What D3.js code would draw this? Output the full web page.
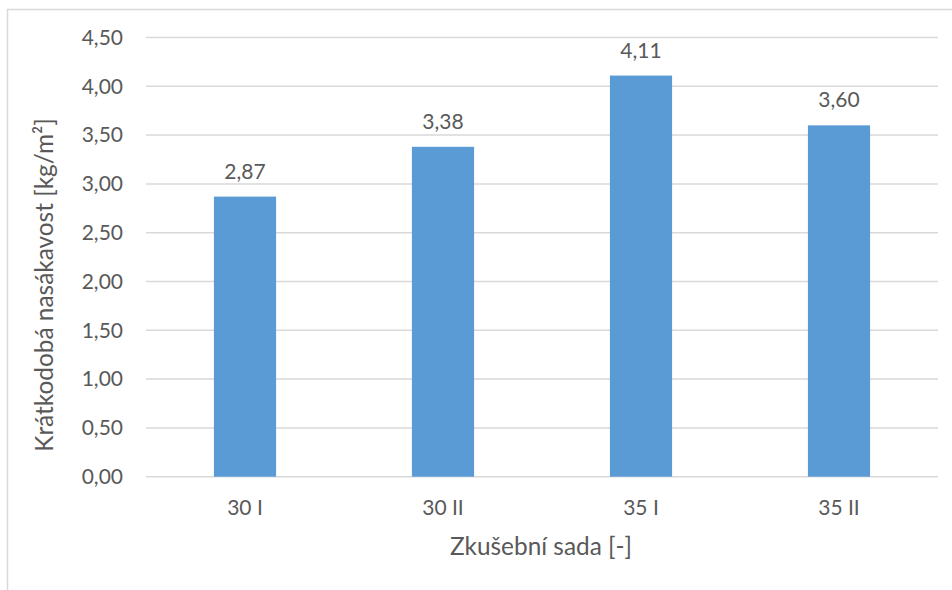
<!DOCTYPE html>
<html><head><meta charset="utf-8">
<script src="https://cdn.jsdelivr.net/npm/d3@7"></script>
<style>
html,body{margin:0;padding:0;background:#fff;}
svg text{font-family:Lato,"Open Sans",sans-serif;fill:#595959;}
</style></head>
<body>
<svg id="chart" width="952" height="590"></svg>
<script>
const categories = ["30 I", "30 II", "35 I", "35 II"];
const values = [2.87, 3.38, 4.11, 3.60];
const yTicks = [0, 0.5, 1.0, 1.5, 2.0, 2.5, 3.0, 3.5, 4.0, 4.5];
const yTitle = "Krátkodobá nasákavost [kg/m²]";
const xTitle = "Zkušební sada [-]";

(function () {
const svg = d3.select("#chart");
const fmt = v => d3.format(".2f")(v).replace(".", ",");

// outer border (cropped at right and bottom)
svg.append("rect").attr("x", 7.5).attr("y", 9.5).attr("width", 960).attr("height", 600)
  .attr("fill", "none").attr("stroke", "#D9D9D9").attr("stroke-width", 1.5);

const pLeft = 146, pRight = 938, pTop = 37.5, pBottom = 476.7;
const x = d3.scaleBand().domain(categories).range([pLeft, pRight]).paddingInner(0.686).paddingOuter(0.343);
const y = d3.scaleLinear().domain([0, 4.5]).range([pBottom, pTop]);

// gridlines
svg.append("g").selectAll("line").data(yTicks).join("line")
  .attr("x1", pLeft).attr("x2", pRight)
  .attr("y1", d => y(d)).attr("y2", d => y(d))
  .attr("stroke", "#D9D9D9").attr("stroke-width", 1.5);

// y axis labels
const yAxis = d3.axisLeft(y).tickValues(yTicks).tickFormat(fmt).tickSize(0).tickPadding(0);
const gy = svg.append("g").attr("transform", `translate(123,0)`).call(yAxis);
gy.select(".domain").remove();
gy.selectAll("text").attr("font-size", 21).attr("font-family", "Lato").attr("fill", "#595959");

// bars
svg.append("g").selectAll("rect").data(values).join("rect")
  .attr("x", (d, i) => x(categories[i]))
  .attr("width", x.bandwidth())
  .attr("y", d => y(d))
  .attr("height", d => y(0) - y(d))
  .attr("fill", "#5B9BD5");

// data labels
svg.append("g").selectAll("text").data(values).join("text")
  .attr("x", (d, i) => x(categories[i]) + x.bandwidth() / 2)
  .attr("y", d => y(d) - 18)
  .attr("text-anchor", "middle")
  .attr("font-size", 21)
  .text(d => fmt(d));

// x axis labels
const xAxis = d3.axisBottom(x).tickSize(0).tickPadding(0);
const gx = svg.append("g").attr("transform", `translate(0,${pBottom})`).call(xAxis);
gx.select(".domain").remove();
gx.selectAll("text").attr("font-size", 21).attr("font-family", "Lato").attr("fill", "#595959")
  .attr("dy", null).attr("y", 38);

// axis titles
svg.append("text").attr("x", 541).attr("y", 555).attr("text-anchor", "middle")
  .attr("font-size", 24.4).text(xTitle);
svg.append("text").attr("transform", "translate(53,285) rotate(-90)").attr("text-anchor", "middle")
  .attr("font-size", 24.4).text(yTitle);
})();
</script>
</body></html>
